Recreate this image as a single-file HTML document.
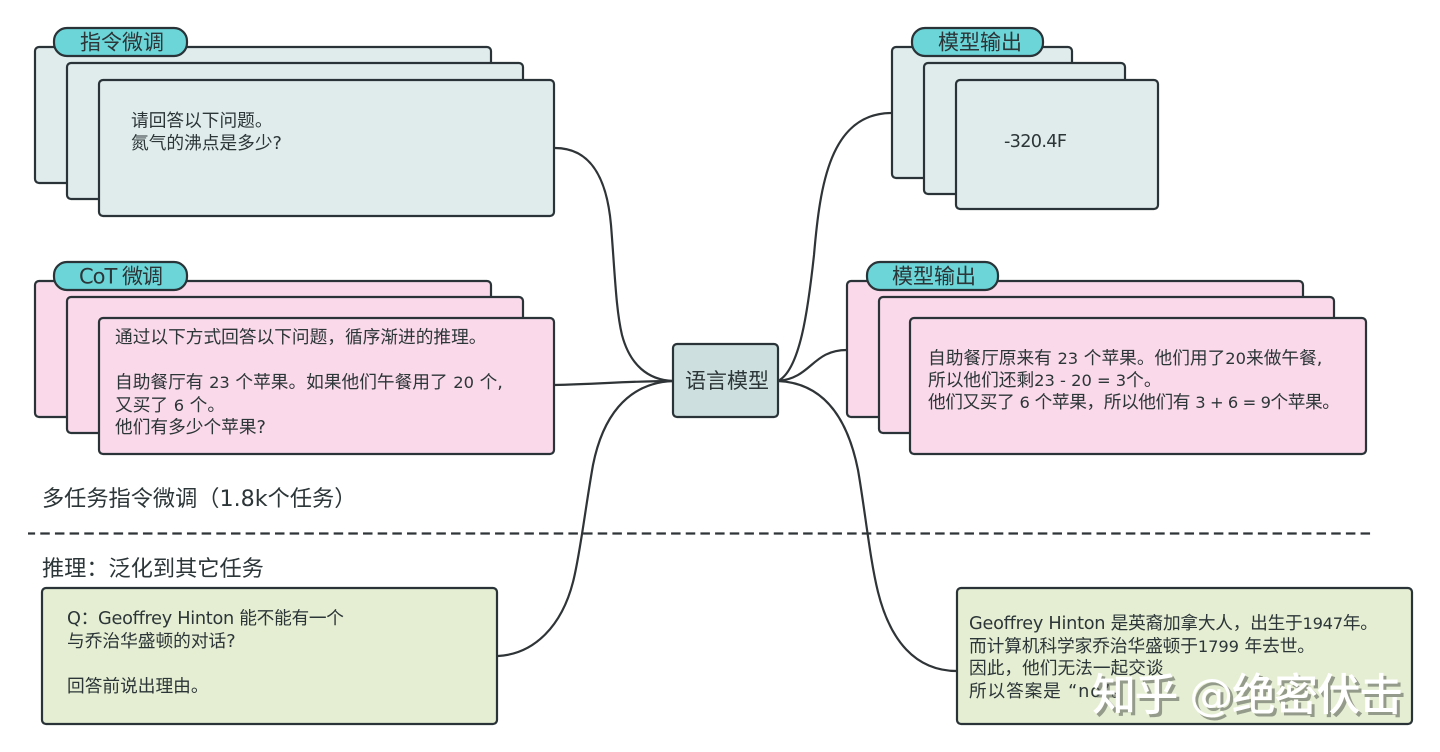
<!DOCTYPE html>
<html lang="zh">
<head>
<meta charset="utf-8">
<style>
html,body{margin:0;padding:0;background:#fff;width:1440px;height:752px;overflow:hidden}
svg{display:block}
text{font-family:"DejaVu Sans","Noto Sans CJK SC",sans-serif;fill:#2c3538;font-size:17.7px}
.t{font-size:21px}
.b{font-size:22.2px}
.d{font-size:16.3px}
rect{stroke:#2a3438;stroke-width:2.2}
.g{fill:#e0ecec}.p{fill:#f9d9ea}.n{fill:#e5eed2}.c{fill:#6bd5d8}
path{fill:none;stroke:#2f3437;stroke-width:2.2}
</style>
</head>
<body>
<svg width="1440" height="752" viewBox="0 0 1440 752" xmlns="http://www.w3.org/2000/svg">
<path d="M555 148C592 148 607 180 611 225C615 275 616 310 622 335C630 365 648 380 673 381"/>
<path d="M554 385C600 384 630 381 673 381"/>
<path d="M498 656C535 654 562 625 573 582C580 555 585 510 593 465C602 420 625 383 673 381"/>
<path d="M778 381C800 370 808 310 814 255C820 185 830 113 892 113"/>
<path d="M778 381C812 378 812 350 847 350"/>
<path d="M778 381C825 383 848 420 858 470C865 510 870 560 878 592C890 640 915 671 957 671"/>
<line x1="28" y1="533.500" x2="1372" y2="533.500" stroke="#2f3437" stroke-width="2.200" stroke-dasharray="9.500 5.170" stroke-dashoffset="2.400"/>

<rect class="g" x="35" y="47" width="456" height="136" rx="4"/>
<rect class="g" x="67" y="63" width="456" height="136" rx="4"/>
<rect class="g" x="99" y="80" width="455" height="136" rx="4"/>
<rect class="c" x="54" y="28" width="133" height="28" rx="13"/>
<text class="t" x="80" y="49.500">指令微调</text>
<text x="131" y="126.500">请回答以下问题。</text>
<text x="131" y="149">氮气的沸点是多少?</text>

<rect class="p" x="35" y="281" width="456" height="136" rx="4"/>
<rect class="p" x="67" y="297" width="456" height="136" rx="4"/>
<rect class="p" x="99" y="318" width="455" height="136" rx="4"/>
<rect class="c" x="54" y="262" width="133" height="28" rx="13"/>
<text class="t" x="79" y="283.500" textLength="84">CoT 微调</text>
<text x="115" y="343">通过以下方式回答以下问题，循序渐进的推理。</text>
<text x="115" y="388">自助餐厅有 <tspan class="d">23</tspan> 个苹果。如果他们午餐用了 <tspan class="d">20</tspan> 个,</text>
<text x="115" y="411">又买了 <tspan class="d">6</tspan> 个。</text>
<text x="115" y="433">他们有多少个苹果?</text>

<text class="b" x="42" y="506">多任务指令微调（1.8k个任务）</text>
<text class="b" x="42" y="576">推理：泛化到其它任务</text>

<rect x="673" y="344" width="105" height="73" rx="4" fill="#cde0df"/>
<text class="t" x="685" y="388">语言模型</text>

<rect class="g" x="892" y="47" width="180" height="131" rx="4"/>
<rect class="g" x="924" y="63" width="201" height="131" rx="4"/>
<rect class="g" x="956" y="80" width="202" height="129" rx="4"/>
<rect class="c" x="912" y="28" width="131" height="28" rx="13"/>
<text class="t" x="938" y="49.500">模型输出</text>
<text x="1004" y="147" textLength="63">-320.4F</text>

<rect class="p" x="847" y="281" width="456" height="136" rx="4"/>
<rect class="p" x="879" y="297" width="455" height="136" rx="4"/>
<rect class="p" x="910" y="318" width="456" height="136" rx="4"/>
<rect class="c" x="867" y="262" width="131" height="28" rx="13"/>
<text class="t" x="892" y="283.500">模型输出</text>
<text x="928" y="364">自助餐厅原来有 <tspan class="d">23</tspan> 个苹果。他们用了<tspan class="d">20</tspan>来做午餐,</text>
<text x="928" y="386">所以他们还剩<tspan class="d">23 - 20 = 3</tspan>个。</text>
<text x="928" y="408" textLength="412">他们又买了 <tspan class="d">6</tspan> 个苹果，所以他们有 <tspan class="d">3 + 6 = 9</tspan>个苹果。</text>

<rect class="n" x="42" y="588" width="455" height="136" rx="4"/>
<text x="67" y="624" textLength="277">Q：Geoffrey Hinton 能不能有一个</text>
<text x="67" y="647">与乔治华盛顿的对话?</text>
<text x="67" y="692">回答前说出理由。</text>

<rect class="n" x="957" y="588" width="455" height="136" rx="4"/>
<text x="969" y="629" textLength="409">Geoffrey Hinton 是英裔加拿大人，出生于<tspan class="d">1947</tspan>年。</text>
<text x="969" y="652" textLength="346">而计算机科学家乔治华盛顿于<tspan class="d">1799</tspan> 年去世。</text>
<text x="969" y="674">因此，他们无法一起交谈</text>
<text x="969" y="697" textLength="160">所以答案是 “no”。</text>

<text x="1092" y="710" textLength="311" style="font-size:44px;font-weight:500;fill:#fff;filter:drop-shadow(3px 3px 0 rgba(95,100,90,.6))">知乎 @绝密伏击</text>
</svg>
</body>
</html>
